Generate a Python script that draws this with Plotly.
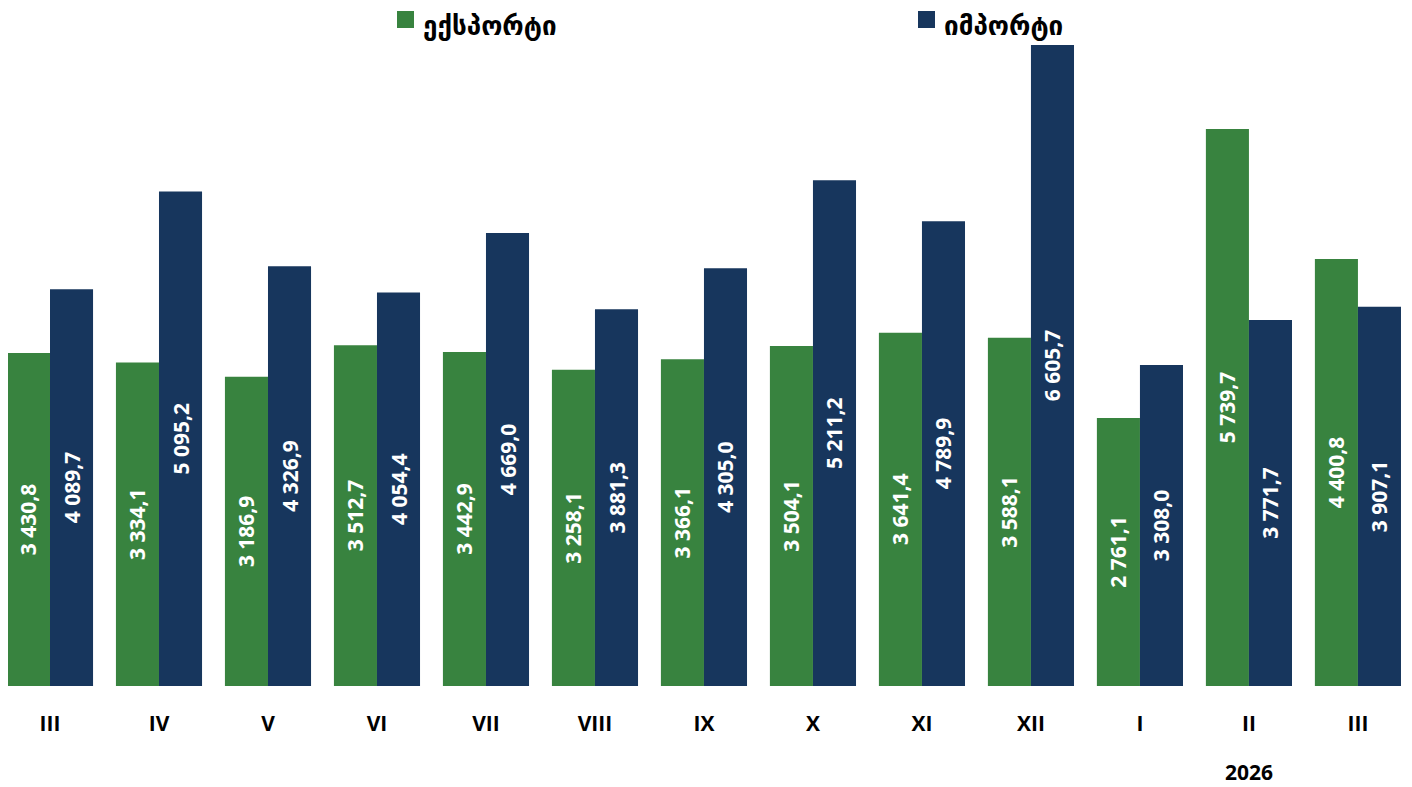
import plotly.graph_objects as go

months = ["III", "IV", "V", "VI", "VII", "VIII", "IX", "X", "XI", "XII", "I", "II", "III"]
export_vals = [3430.8, 3334.1, 3186.9, 3512.7, 3442.9, 3258.1, 3366.1, 3504.1, 3641.4, 3588.1, 2761.1, 5739.7, 4400.8]
import_vals = [4089.7, 5095.2, 4326.9, 4054.4, 4669.0, 3881.3, 4305.0, 5211.2, 4789.9, 6605.7, 3308.0, 3771.7, 3907.1]
series_names = ["ექსპორტი", "იმპორტი"]
year_label = "2026"
year_index = 11

GREEN = "#38833f"
BLUE = "#17365d"

def fmt(v):
    s = f"{v:,.1f}"
    return s.replace(",", " ").replace(".", ",")

xs = list(range(len(months)))

# page has an 8px body margin; figure is sized to fit the window
W, H = 1404, 779
OFF = 8
TOP = 37
PLOT_H = 641

fig = go.Figure()
for name, vals, col in [(series_names[0], export_vals, GREEN), (series_names[1], import_vals, BLUE)]:
    fig.add_trace(go.Bar(
        x=xs, y=vals, name=name, marker=dict(color=col, line=dict(width=0)),
        text=[fmt(v) for v in vals], textposition="inside", insidetextanchor="middle",
        textangle=-90, constraintext="none",
        textfont=dict(family="Open Sans", size=21, color="white", weight="bold"),
        hoverinfo="skip", showlegend=False,
    ))

fig.update_layout(
    width=W, height=H,
    margin=dict(l=0, r=0, t=TOP, b=101),
    plot_bgcolor="white", paper_bgcolor="white",
    barmode="group", bargap=0.21, bargroupgap=0,
    xaxis=dict(range=[-0.3853, 12.496], tickvals=xs, ticktext=months,
               tickfont=dict(family="Open Sans", size=21, color="black", weight="bold"),
               ticks="outside", ticklen=19, tickcolor="rgba(0,0,0,0)",
               showgrid=False, zeroline=False, showline=False),
    yaxis=dict(range=[0, 6605.7], visible=False, showgrid=False, zeroline=False),
    showlegend=False,
)

fig.add_annotation(x=year_index, y=-0.134, xref="x", yref="paper", text=year_label,
                   showarrow=False, yanchor="middle",
                   font=dict(family="Open Sans", size=21, color="black", weight="bold"))

# legend drawn manually (reference pixel positions)
legend_items = [(series_names[0], GREEN, 397), (series_names[1], BLUE, 918)]
for name, col, px in legend_items:
    fig.add_shape(type="rect", xref="paper", yref="paper",
                  x0=(px - OFF) / W, x1=(px - OFF + 17) / W,
                  y0=(686 - 28) / PLOT_H, y1=(686 - 11) / PLOT_H,
                  fillcolor=col, line=dict(width=0))
    fig.add_annotation(x=(px - OFF + 24) / W, y=1 + (TOP - 1) / PLOT_H, xref="paper", yref="paper",
                       text=name, showarrow=False, xanchor="left", yanchor="top",
                       font=dict(family="DejaVu Sans", size=26, color="black", weight="bold"))

fig.write_html("out.html")
